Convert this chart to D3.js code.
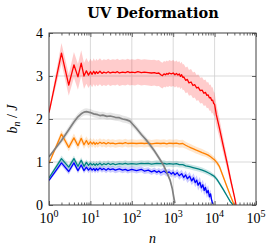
<!DOCTYPE html>
<html>
<head>
<meta charset="utf-8">
<script src="https://cdn.jsdelivr.net/npm/d3@7"></script>
<style>
  body { margin: 0; background: #fff; }
  svg { display: block; }
</style>
</head>
<body>
<div id="chart"></div>
<script>
// [n, mean, spread]
var redData = [
  [1,2.15,0.05],[2,3.53,0.24],[3,2.79,0.25],[4,3.26,0.3],[5,2.98,0.3],[6,3.30,0.3],[7,3.00,0.3],[8,3.12,0.3],[9,3.02,0.3],[10,3.10,0.3],
  [11,3.04,0.3],[12,3.11,0.3],[13,3.05,0.3],[14,3.10,0.3],[15,3.06,0.3],[17,3.11,0.3],[19,3.06,0.3],[21,3.09,0.3],[24,3.07,0.3],[27,3.10,0.3],
  [30,3.07,0.3],[35,3.09,0.3],[40,3.08,0.3],[45,3.10,0.3],[50,3.07,0.3],[60,3.09,0.3],[70,3.08,0.3],[80,3.10,0.3],[90,3.08,0.3],[100,3.09,0.3],
  [120,3.08,0.3],[140,3.10,0.3],[170,3.08,0.3],[200,3.09,0.3],[250,3.08,0.3],[300,3.07,0.3],[350,3.08,0.3],[400,3.06,0.3],[450,3.07,0.3],[500,3.03,0.3],
  [550,3.01,0.3],[600,3.05,0.3],[650,3.03,0.3],[700,3.06,0.3],[750,3.04,0.3],[800,3.07,0.3],[900,3.05,0.3],[1000,3.07,0.3],[1100,3.03,0.3],[1200,3.06,0.3],
  [1300,3.02,0.3],[1400,3.05,0.3],[1500,2.99,0.3],[1600,3.03,0.3],[1700,2.97,0.3],[1800,2.98,0.3],[2000,2.90,0.3],[2200,2.92,0.3],[2400,2.84,0.3],[2700,2.86,0.3],
  [3000,2.78,0.3],[3300,2.80,0.3],[3700,2.72,0.3],[4000,2.74,0.3],[4500,2.66,0.3],[5000,2.67,0.3],[5500,2.60,0.3],[6000,2.62,0.3],[6500,2.55,0.3],[7000,2.56,0.3],
  [7500,2.49,0.3],[8000,2.50,0.3],[8500,2.43,0.3],[9000,2.44,0.3],[9500,2.36,0.28],[10000,2.34,0.27],[11000,2.10,0.25],[13000,1.80,0.22],[16000,1.40,0.18],[20000,0.98,0.14],
  [25000,0.54,0.1],[30000,0.20,0.06],[33000,0.00,0.02]
];

var orangeData = [
  [1,0.97,0.03],[2,1.65,0.09],[3,1.34,0.09],[4,1.56,0.1],[5,1.38,0.1],[6,1.55,0.1],[7,1.40,0.1],[8,1.50,0.1],[9,1.41,0.1],[10,1.47,0.09],
  [11,1.42,0.09],[12,1.46,0.09],[13,1.41,0.09],[14,1.45,0.09],[15,1.42,0.09],[17,1.46,0.09],[19,1.43,0.09],[21,1.45,0.09],[24,1.42,0.09],[27,1.45,0.09],
  [30,1.43,0.09],[35,1.44,0.09],[40,1.42,0.09],[50,1.44,0.09],[60,1.43,0.09],[70,1.45,0.09],[80,1.43,0.09],[100,1.44,0.09],[130,1.43,0.09],[170,1.44,0.09],
  [200,1.43,0.09],[250,1.44,0.09],[300,1.42,0.09],[400,1.44,0.09],[500,1.43,0.09],[600,1.44,0.09],[700,1.42,0.09],[800,1.44,0.09],[1000,1.43,0.09],[1200,1.44,0.09],
  [1400,1.42,0.09],[1700,1.43,0.09],[2000,1.39,0.08],[2300,1.36,0.08],[2700,1.33,0.08],[3000,1.31,0.08],[3500,1.28,0.08],[4000,1.26,0.08],[5000,1.22,0.08],[6000,1.19,0.07],
  [7000,1.16,0.07],[8000,1.12,0.07],[9000,1.08,0.07],[10000,1.05,0.07],[11500,0.98,0.06],[13000,0.90,0.06],[16000,0.67,0.05],[20000,0.42,0.04],[24000,0.22,0.03],[27000,0.10,0.02],
  [29500,0.00,0.01]
];

var tealData = [
  [1,0.63,0.03],[2,1.08,0.07],[3,0.88,0.07],[4,1.08,0.07],[5,0.90,0.07],[6,1.04,0.07],[7,0.90,0.07],[8,0.99,0.07],[9,0.92,0.07],[10,0.97,0.07],
  [11,0.93,0.07],[12,0.96,0.07],[13,0.92,0.07],[14,0.96,0.07],[15,0.93,0.07],[17,0.97,0.07],[19,0.93,0.07],[21,0.96,0.07],[24,0.94,0.07],[27,0.97,0.07],
  [30,0.94,0.07],[35,0.96,0.07],[40,0.94,0.07],[50,0.96,0.07],[60,0.95,0.07],[70,0.97,0.07],[80,0.95,0.07],[100,0.96,0.07],[130,0.95,0.07],[170,0.97,0.07],
  [200,0.96,0.07],[250,0.97,0.07],[300,0.95,0.07],[400,0.97,0.07],[500,0.96,0.07],[600,0.97,0.07],[700,0.95,0.07],[800,0.96,0.07],[1000,0.95,0.07],[1200,0.96,0.07],
  [1400,0.94,0.07],[1700,0.94,0.07],[2000,0.91,0.06],[2500,0.89,0.06],[3000,0.87,0.06],[4000,0.84,0.06],[5000,0.81,0.06],[6000,0.78,0.06],[7000,0.75,0.06],[8000,0.72,0.06],
  [9000,0.69,0.05],[10000,0.66,0.05],[11500,0.59,0.05],[13000,0.51,0.04],[16000,0.37,0.04],[20000,0.21,0.03],[24000,0.08,0.02],[28000,0.00,0.01]
];

var blueData = [
  [1,0.57,0.03],[2,0.98,0.07],[3,0.78,0.07],[4,0.98,0.07],[5,0.80,0.07],[6,0.93,0.07],[7,0.80,0.07],[8,0.88,0.07],[9,0.81,0.07],[10,0.86,0.07],
  [11,0.81,0.07],[12,0.85,0.07],[13,0.80,0.07],[14,0.85,0.07],[15,0.81,0.07],[17,0.86,0.07],[19,0.82,0.07],[21,0.85,0.07],[24,0.81,0.07],[27,0.85,0.07],
  [30,0.82,0.07],[35,0.84,0.07],[40,0.81,0.07],[50,0.84,0.07],[60,0.81,0.07],[70,0.83,0.07],[80,0.80,0.07],[100,0.83,0.07],[130,0.80,0.07],[170,0.83,0.07],
  [200,0.79,0.07],[250,0.81,0.07],[300,0.77,0.07],[350,0.80,0.07],[400,0.76,0.07],[450,0.79,0.07],[500,0.75,0.08],[600,0.79,0.08],[700,0.74,0.08],[800,0.77,0.08],
  [900,0.72,0.08],[1000,0.76,0.08],[1100,0.70,0.08],[1250,0.75,0.09],[1400,0.68,0.09],[1600,0.73,0.09],[1800,0.64,0.09],[2000,0.70,0.1],[2200,0.61,0.1],[2500,0.67,0.1],
  [2800,0.56,0.1],[3100,0.63,0.11],[3400,0.52,0.11],[3700,0.58,0.11],[4000,0.46,0.12],[4400,0.53,0.12],[4800,0.40,0.12],[5200,0.47,0.12],[5600,0.34,0.12],[6000,0.41,0.12],
  [6500,0.28,0.12],[7000,0.34,0.12],[7500,0.19,0.1],[8000,0.26,0.1],[8500,0.11,0.08],[9000,0.03,0.04]
];

var grayData = [
  [1,1.12,0.03],[2,1.50,0.07],[3,1.75,0.08],[4,1.93,0.08],[5,2.05,0.08],[6,2.12,0.08],[7,2.16,0.08],[8,2.17,0.08],[9,2.16,0.08],[10,2.15,0.08],
  [12,2.12,0.08],[15,2.10,0.08],[17,2.08,0.08],[20,2.09,0.08],[25,2.06,0.08],[30,2.07,0.08],[40,2.04,0.08],[50,2.03,0.08],[60,2.00,0.08],[75,1.98,0.08],
  [90,1.95,0.08],[100,1.90,0.08],[130,1.78,0.07],[170,1.64,0.07],[220,1.52,0.07],[280,1.39,0.07],[350,1.26,0.06],[450,1.10,0.06],[580,0.93,0.06],[700,0.76,0.05],
  [840,0.58,0.05],[950,0.38,0.04],[1050,0.14,0.03],[1100,0.04,0.02]
];

var xMajor = [1, 10, 100, 1000, 10000, 100000];
var yMajor = [0, 1, 2, 3, 4];
var xMinor = [];
[0, 1, 2, 3, 4].forEach(function(e) {
  for (var k = 2; k <= 9; k++) xMinor.push(k * Math.pow(10, e));
});

var series = [
  { data: blueData,   color: "#0000ff", width: 1.3 },
  { data: tealData,   color: "#008080", width: 1.3 },
  { data: orangeData, color: "#ff8000", width: 1.3 },
  { data: grayData,   color: "#808080", width: 1.7 },
  { data: redData,    color: "#ff0000", width: 1.3 }
];

var totalWidth = 274, totalHeight = 251;
var margin = { top: 33, right: 18, bottom: 46, left: 49 };
var width = totalWidth - margin.left - margin.right,
    height = totalHeight - margin.top - margin.bottom;

var serif = "'Liberation Serif', 'DejaVu Serif', serif";

var svg = d3.select("#chart").append("svg")
    .attr("width", totalWidth)
    .attr("height", totalHeight);

var x = d3.scaleLog().domain([1, 1e5]).range([0, width]);
var y = d3.scaleLinear().domain([0, 4]).range([height, 0]);

var g = svg.append("g")
    .attr("transform", "translate(" + margin.left + "," + margin.top + ")");

svg.append("defs").append("clipPath").attr("id", "clip")
  .append("rect").attr("width", width).attr("height", height);

// grid
g.append("g").selectAll("line.vg")
  .data(xMajor.slice(1, -1))
  .enter().append("line")
    .attr("x1", d => x(d)).attr("x2", d => x(d))
    .attr("y1", 0).attr("y2", height)
    .attr("stroke", "#cfcfcf").attr("stroke-width", 0.8);
g.append("g").selectAll("line.hg")
  .data(yMajor.slice(1, -1))
  .enter().append("line")
    .attr("x1", 0).attr("x2", width)
    .attr("y1", d => y(d)).attr("y2", d => y(d))
    .attr("stroke", "#cfcfcf").attr("stroke-width", 0.8);

var area = d3.area()
    .x(d => x(d[0]))
    .y0(d => y(Math.max(0, d[1] - d[2])))
    .y1(d => y(d[1] + d[2]));
var line = d3.line()
    .x(d => x(d[0]))
    .y(d => y(d[1]));

var plot = g.append("g").attr("clip-path", "url(#clip)");

series.forEach(function(s) {
  plot.append("path").datum(s.data)
    .attr("fill", s.color).attr("fill-opacity", 0.2)
    .attr("stroke", "none")
    .attr("d", area);
});
series.forEach(function(s) {
  plot.append("path").datum(s.data)
    .attr("fill", "none")
    .attr("stroke", s.color)
    .attr("stroke-width", s.width)
    .attr("stroke-linejoin", "round")
    .attr("d", line);
});

// tick marks, inside on all four sides
function ticks(axis, tr) {
  g.append("g").attr("transform", tr).call(axis)
    .call(a => a.select(".domain").remove())
    .selectAll("line").attr("stroke", "#404040").attr("stroke-width", 0.8);
}
ticks(d3.axisBottom(x).tickValues(xMajor).tickSize(-4).tickFormat(""), "translate(0," + height + ")");
ticks(d3.axisBottom(x).tickValues(xMinor).tickSize(-2.5).tickFormat(""), "translate(0," + height + ")");
ticks(d3.axisTop(x).tickValues(xMajor).tickSize(-4).tickFormat(""), "translate(0,0)");
ticks(d3.axisTop(x).tickValues(xMinor).tickSize(-2.5).tickFormat(""), "translate(0,0)");
ticks(d3.axisLeft(y).tickValues(yMajor).tickSize(-4).tickFormat(""), "translate(0,0)");
ticks(d3.axisRight(y).tickValues(yMajor).tickSize(-4).tickFormat(""), "translate(" + width + ",0)");

// frame
g.append("rect")
  .attr("width", width).attr("height", height)
  .attr("fill", "none").attr("stroke", "#404040").attr("stroke-width", 1);

// x tick labels 10^k
var xl = g.append("g").selectAll("text")
  .data(xMajor)
  .enter().append("text")
    .attr("x", d => x(d))
    .attr("y", height + 18)
    .attr("text-anchor", "middle")
    .attr("font-family", serif)
    .attr("font-size", 14)
    .attr("fill", "#000");
xl.append("tspan").text("10");
xl.append("tspan").attr("dy", -6).attr("font-size", 10).text(d => Math.round(Math.log10(d)));

// y tick labels
g.append("g").selectAll("text")
  .data(yMajor)
  .enter().append("text")
    .attr("x", -6)
    .attr("y", d => y(d))
    .attr("dy", "0.35em")
    .attr("text-anchor", "end")
    .attr("font-family", serif)
    .attr("font-size", 14)
    .text(d => d);

// x label
svg.append("text")
  .attr("x", margin.left + width / 2)
  .attr("y", 243)
  .attr("text-anchor", "middle")
  .attr("font-family", serif)
  .attr("font-style", "italic")
  .attr("font-size", 14)
  .text("n");

// y label
var yl = svg.append("text")
  .attr("transform", "translate(17," + (margin.top + height / 2) + ") rotate(-90)")
  .attr("text-anchor", "middle")
  .attr("font-family", serif)
  .attr("font-size", 14);
yl.append("tspan").attr("font-style", "italic").text("b");
yl.append("tspan").attr("font-style", "italic").attr("font-size", 10).attr("dy", 3).text("n");
yl.append("tspan").attr("dy", -3).text(" / ");
yl.append("tspan").attr("font-style", "italic").text("J");

// title
svg.append("text")
  .attr("x", 153)
  .attr("y", 18)
  .attr("text-anchor", "middle")
  .attr("font-family", "'DejaVu Serif', serif")
  .attr("font-weight", "bold")
  .attr("font-size", 14.5)
  .text("UV Deformation");
</script>
</body>
</html>
